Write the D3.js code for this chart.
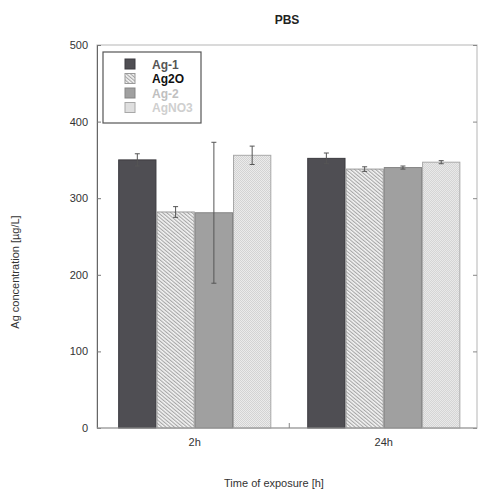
<!DOCTYPE html>
<html>
<head>
<meta charset="utf-8">
<script src="https://cdn.jsdelivr.net/npm/d3@7"></script>
<style>
  body { margin: 0; background: #fff; }
  svg text { font-family: "Liberation Sans", Arial, sans-serif; }
</style>
</head>
<body>
<div class="chart-wrapper"></div>
<script>
// data
const groups = ['2h', '24h']
const seriesNames = ['Ag-1', 'Ag2O', 'Ag-2', 'AgNO3']
const means2h = [350, 282, 281, 356]
const errors2h = [8, 7, 92, 12]
const means24h = [352, 338, 340, 347]
const errors24h = [7, 3, 2, 2]
const yTicks = [0, 100, 200, 300, 400, 500]

const rows = [
  { group: '2h', means: means2h, errors: errors2h },
  { group: '24h', means: means24h, errors: errors24h }
]

const width = 479, height = 490
const margin = { top: 45, right: 2, bottom: 62, left: 97 }

let svg = d3.select('.chart-wrapper').append('svg')
  .attr('width', width)
  .attr('height', height)

// fill patterns
let defs = svg.append('defs')

let hatch = defs.append('pattern')
  .attr('id', 'hatch')
  .attr('width', 2.7).attr('height', 2.7)
  .attr('patternUnits', 'userSpaceOnUse')
  .attr('patternTransform', 'rotate(-50)')
hatch.append('rect').attr('width', 2.7).attr('height', 2.7).attr('fill', '#f4f4f4')
hatch.append('rect').attr('width', 1.1).attr('height', 2.7).attr('fill', '#a6a6a6')

let dots = defs.append('pattern')
  .attr('id', 'dots')
  .attr('width', 2).attr('height', 2)
  .attr('patternUnits', 'userSpaceOnUse')
dots.append('rect').attr('width', 2).attr('height', 2).attr('fill', '#f1f1f1')
dots.append('rect').attr('width', 1).attr('height', 1).attr('fill', '#cdcdcd')
dots.append('rect').attr('x', 1).attr('y', 1).attr('width', 1).attr('height', 1).attr('fill', '#cdcdcd')

const fills = ['#4f4e53', 'url(#hatch)', '#a0a0a0', 'url(#dots)']
const strokes = ['#3c3b40', '#9a9a9a', '#858585', '#a8a8a8']
const legendText = ['#555', '#111', '#c0c0c0', '#cfcfcf']

let x0 = d3.scaleBand()
  .domain(groups)
  .range([margin.left, width - margin.right])
  .paddingInner(0.19)
  .paddingOuter(0.1)
  .align(0.56)

let x1 = d3.scaleBand()
  .domain(seriesNames)
  .range([0, x0.bandwidth()])

let y = d3.scaleLinear()
  .domain([0, 500])
  .range([height - margin.bottom, margin.top])

// frame
svg.append('rect')
  .attr('x', margin.left).attr('y', margin.top)
  .attr('width', width - margin.right - margin.left)
  .attr('height', y(0) - margin.top)
  .attr('fill', 'none')
  .attr('stroke', '#b5b5b5')
  .attr('stroke-width', 1)

// bars
let groupG = svg.selectAll('.grp')
  .data(rows)
  .enter().append('g')
  .attr('transform', d => `translate(${x0(d.group)},0)`)

groupG.selectAll('rect.bar')
  .data(d => d.means.map((m, i) => ({ name: seriesNames[i], mean: m, err: d.errors[i], i })))
  .enter().append('rect')
  .attr('class', 'bar')
  .attr('x', d => x1(d.name) + 0.5)
  .attr('y', d => y(d.mean))
  .attr('width', x1.bandwidth() - 1)
  .attr('height', d => y(0) - y(d.mean))
  .attr('fill', d => fills[d.i])
  .attr('stroke', d => strokes[d.i])
  .attr('stroke-width', 1)

// error bars
let errG = groupG.selectAll('g.err')
  .data(d => d.means.map((m, i) => ({ name: seriesNames[i], mean: m, err: d.errors[i], i })))
  .enter().append('g')
  .attr('class', 'err')
  .attr('stroke', '#555')
  .attr('stroke-width', 1)

errG.append('line')
  .attr('x1', d => x1(d.name) + x1.bandwidth() / 2)
  .attr('x2', d => x1(d.name) + x1.bandwidth() / 2)
  .attr('y1', d => y(d.mean + d.err))
  .attr('y2', d => y(d.mean - d.err))

errG.selectAll('line.cap')
  .data(d => [d.mean + d.err, d.mean - d.err].map(v => ({ v, cx: x1(d.name) + x1.bandwidth() / 2 })))
  .enter().append('line')
  .attr('class', 'cap')
  .attr('x1', d => d.cx - 2.5)
  .attr('x2', d => d.cx + 2.5)
  .attr('y1', d => y(d.v))
  .attr('y2', d => y(d.v))

// left axis
let yAxis = svg.append('g')
  .attr('transform', `translate(${margin.left},0)`)
  .call(d3.axisLeft(y).tickValues(yTicks).tickSize(-4).tickPadding(9))
yAxis.select('.domain').attr('stroke', '#666')
yAxis.selectAll('.tick line').attr('stroke', '#777')
yAxis.selectAll('text').attr('font-size', 11).attr('fill', '#333')

// right ticks
let yRight = svg.append('g')
  .attr('transform', `translate(${width - margin.right},0)`)
  .call(d3.axisRight(y).tickValues(yTicks).tickSize(-4).tickFormat(''))
yRight.select('.domain').remove()
yRight.selectAll('.tick line').attr('stroke', '#888')

// bottom axis
let bottom = svg.append('g')
  .attr('transform', `translate(0,${y(0)})`)
  .call(d3.axisBottom(x0).tickSize(0).tickPadding(10))
bottom.select('.domain').attr('stroke', '#999')
  .attr('d', `M${margin.left},0H${width - margin.right}`)
bottom.selectAll('text').attr('font-size', 11).attr('fill', '#333')

// tick between groups
let between = (x0(groups[0]) + x0.bandwidth() + x0(groups[1])) / 2
svg.append('line')
  .attr('x1', between).attr('x2', between)
  .attr('y1', y(0)).attr('y2', y(0) - 5)
  .attr('stroke', '#888')

// titles
svg.append('text')
  .attr('x', (margin.left + width - margin.right) / 2)
  .attr('y', 24)
  .attr('text-anchor', 'middle')
  .attr('font-size', 12)
  .attr('font-weight', 'bold')
  .attr('fill', '#222')
  .text('PBS')

svg.append('text')
  .attr('x', 274)
  .attr('y', 487)
  .attr('text-anchor', 'middle')
  .attr('font-size', 11)
  .attr('fill', '#333')
  .text('Time of exposure [h]')

svg.append('text')
  .attr('transform', 'translate(19,272) rotate(-90)')
  .attr('text-anchor', 'middle')
  .attr('font-size', 11)
  .attr('fill', '#333')
  .text('Ag concentration [µg/L]')

// legend
let legend = svg.append('g').attr('transform', 'translate(103,52)')
legend.append('rect')
  .attr('width', 98).attr('height', 71)
  .attr('fill', '#fff')
  .attr('stroke', '#555')
  .attr('stroke-width', 1.2)

let item = legend.selectAll('.item')
  .data(seriesNames)
  .enter().append('g')
  .attr('transform', (d, i) => `translate(22,${7 + i * 14.5})`)

item.append('rect')
  .attr('width', 10).attr('height', 10)
  .attr('fill', (d, i) => fills[i])
  .attr('stroke', (d, i) => strokes[i])

item.append('text')
  .attr('x', 27).attr('y', 9.5)
  .attr('font-size', 12)
  .attr('font-weight', 'bold')
  .attr('fill', (d, i) => legendText[i])
  .text(d => d)
</script>
</body>
</html>
